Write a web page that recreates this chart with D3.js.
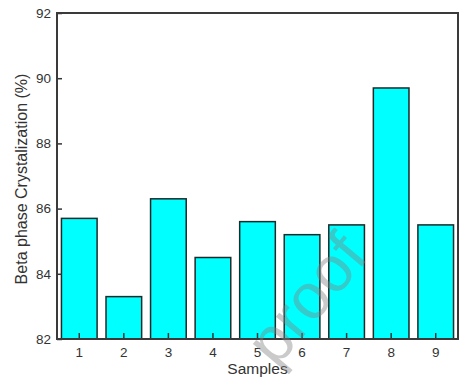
<!DOCTYPE html>
<html>
<head>
<meta charset="utf-8">
<script src="https://cdn.jsdelivr.net/npm/d3@7"></script>
<style>
html,body{margin:0;padding:0;background:#fff;}
svg{display:block;}
text{font-family:"Liberation Sans",Arial,sans-serif;}
</style>
</head>
<body>
<svg id="chart" width="472" height="381"></svg>
<script>
const samples = ["1","2","3","4","5","6","7","8","9"];
const betaValues = [85.7, 83.3, 86.3, 84.5, 85.6, 85.2, 85.5, 89.7, 85.5];
const yTicks = [82, 84, 86, 88, 90, 92];
const xTitle = "Samples";
const yTitle = "Beta phase Crystalization (%)";
const watermark = "proof";

const W = 472, H = 381;
const m = {left: 57, right: 14, top: 13, bottom: 42};
const svg = d3.select("#chart");

const x = d3.scaleBand().domain(samples).range([m.left, W - m.right]).paddingInner(0.2).paddingOuter(0.1);
const y = d3.scaleLinear().domain([82, 92]).range([H - m.bottom, m.top]);

// bars
svg.append("g").selectAll("rect").data(betaValues).join("rect")
  .attr("x", (d, i) => x(samples[i]))
  .attr("y", d => y(d))
  .attr("width", x.bandwidth())
  .attr("height", d => y(82) - y(d))
  .attr("fill", "#00ffff")
  .attr("stroke", "#1f2a2a")
  .attr("stroke-width", 1.5);

// axes
const xAxis = svg.append("g").attr("transform", `translate(0,${H - m.bottom})`)
  .call(d3.axisBottom(x).tickSizeInner(-6).tickSizeOuter(0).tickPadding(8));
const yAxis = svg.append("g").attr("transform", `translate(${m.left},0)`)
  .call(d3.axisLeft(y).tickValues(yTicks).tickFormat(d3.format("d")).tickSizeInner(-5).tickSizeOuter(0).tickPadding(6));
[xAxis, yAxis].forEach(g => {
  g.select(".domain").remove();
  g.selectAll("line").attr("stroke", "#333").attr("stroke-width", 1.5);
  g.selectAll("text").attr("fill", "#333").style("font-size", "13.5px");
});

// frame
svg.append("rect")
  .attr("x", m.left).attr("y", m.top)
  .attr("width", W - m.right - m.left).attr("height", H - m.bottom - m.top)
  .attr("fill", "none").attr("stroke", "#3a3a3a").attr("stroke-width", 2);

// titles
svg.append("text").attr("x", (m.left + W - m.right) / 2).attr("y", 374)
  .attr("text-anchor", "middle").attr("fill", "#333").style("font-size", "15.5px").text(xTitle);
svg.append("text").attr("transform", `translate(27,${(m.top + H - m.bottom) / 2 + 3}) rotate(-90)`)
  .attr("text-anchor", "middle").attr("fill", "#333").style("font-size", "16px").text(yTitle);

// watermark
svg.append("text").attr("transform", "translate(276,369) rotate(-50)")
  .attr("fill", "rgba(128,128,128,0.42)").style("font-size", "64px").text(watermark);
</script>
</body>
</html>
